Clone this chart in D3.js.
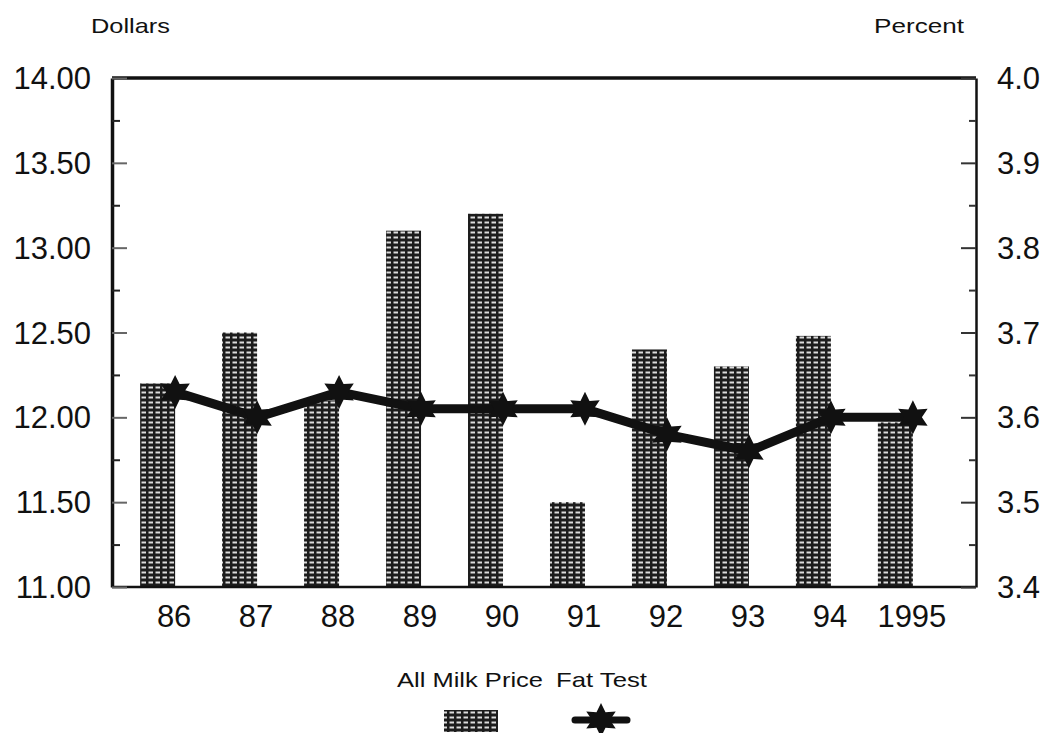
<!DOCTYPE html>
<html>
<head>
<meta charset="utf-8">
<script src="https://cdn.jsdelivr.net/npm/d3@7"></script>
<style>
  body { margin: 0; background: #fff; }
  text { font-family: "Liberation Sans", Arial, sans-serif; fill: #111; }
</style>
</head>
<body>
<svg id="chart" width="1046" height="733"></svg>
<script>
const years = ['86', '87', '88', '89', '90', '91', '92', '93', '94', '1995'];
const milkPrice = [12.20, 12.50, 12.10, 13.10, 13.20, 11.50, 12.40, 12.30, 12.48, 11.97];
const fatTest = [3.63, 3.60, 3.63, 3.61, 3.61, 3.61, 3.58, 3.56, 3.60, 3.60];
const dollarTicks = [11.00, 11.50, 12.00, 12.50, 13.00, 13.50, 14.00];
const percentTicks = [3.4, 3.5, 3.6, 3.7, 3.8, 3.9, 4.0];

// six pointed star like the scanned marker
function starPath(outer, inner) {
  const pts = d3.range(12).map((i) => {
    const a = Math.PI / 6 * i - Math.PI / 2;
    const r = i % 2 === 0 ? outer : inner;
    return [r * Math.cos(a), r * Math.sin(a)];
  });
  return 'M' + pts.join('L') + 'Z';
}

function drawChart() {
  const left = 112, right = 976, top = 78, bottom = 587;
  const barWidth = 35;

  const svg = d3.select('svg#chart');

  const defs = svg.append('defs');
  const pat = defs.append('pattern')
    .attr('id', 'grid')
    .attr('patternUnits', 'userSpaceOnUse')
    .attr('width', 7)
    .attr('height', 5);
  pat.append('rect').attr('width', 7).attr('height', 5).attr('fill', '#1c1c1c');
  pat.append('rect').attr('x', 1.5).attr('y', 1.5).attr('width', 4.5).attr('height', 2).attr('fill', '#dcdcdc');

  const x = d3.scalePoint()
    .domain(years)
    .range([left, right])
    .padding(0.77);

  const yL = d3.scaleLinear().domain([11, 14]).range([bottom, top]);
  const yR = d3.scaleLinear().domain([3.4, 4.0]).range([bottom, top]);

  // bars
  svg.selectAll('rect.bar')
    .data(years)
    .enter()
    .append('rect')
    .attr('class', 'bar')
    .attr('x', (d) => x(d) - barWidth)
    .attr('y', (d, i) => yL(milkPrice[i]))
    .attr('width', barWidth)
    .attr('height', (d, i) => yL(11) - yL(milkPrice[i]))
    .attr('fill', 'url(#grid)');

  // frame
  svg.append('line').attr('x1', left).attr('x2', right).attr('y1', top).attr('y2', top)
    .attr('stroke', '#111').attr('stroke-width', 3.5);
  svg.append('line').attr('x1', left).attr('x2', right).attr('y1', bottom).attr('y2', bottom)
    .attr('stroke', '#111').attr('stroke-width', 2.5);

  // left axis
  const leftAxis = d3.axisRight(yL)
    .tickValues(d3.range(11, 14.01, 0.25))
    .tickSize(0)
    .tickFormat('');
  const gl = svg.append('g').attr('transform', `translate(${left},0)`).call(leftAxis);
  gl.select('.domain').attr('stroke', '#111').attr('stroke-width', 3.5);
  gl.selectAll('.tick line')
    .attr('x2', (d, i) => (i % 2 === 0 ? 15 : 8))
    .attr('stroke', (d, i) => (i % 2 === 0 ? '#666' : '#222'))
    .attr('stroke-width', 2);
  svg.selectAll('text.ltick')
    .data(dollarTicks)
    .enter()
    .append('text')
    .attr('class', 'ltick')
    .attr('x', 91)
    .attr('y', (d) => yL(d))
    .attr('dy', '0.36em')
    .attr('text-anchor', 'end')
    .attr('font-size', 31)
    .text((d) => d3.format('.2f')(d));

  // right axis
  const rightAxis = d3.axisLeft(yR)
    .tickValues(d3.range(3.4, 4.001, 0.05))
    .tickSize(0)
    .tickFormat('');
  const gr = svg.append('g').attr('transform', `translate(${right},0)`).call(rightAxis);
  gr.select('.domain').attr('stroke', '#111').attr('stroke-width', 2.5);
  gr.selectAll('.tick line')
    .attr('x2', (d, i) => (i % 2 === 0 ? -15 : -7))
    .attr('stroke', '#333')
    .attr('stroke-width', 2);
  svg.selectAll('text.rtick')
    .data(percentTicks)
    .enter()
    .append('text')
    .attr('class', 'rtick')
    .attr('x', 997)
    .attr('y', (d) => yR(d))
    .attr('dy', '0.36em')
    .attr('font-size', 31)
    .text((d) => d3.format('.1f')(d));

  // x labels
  svg.selectAll('text.xl')
    .data(years)
    .enter()
    .append('text')
    .attr('class', 'xl')
    .attr('x', (d) => x(d) - 1)
    .attr('y', 627)
    .attr('text-anchor', 'middle')
    .attr('font-size', 31)
    .text((d) => d);

  // fat test line
  const line = d3.line()
    .x((d) => x(d))
    .y((d, i) => yR(fatTest[i]));
  svg.append('path')
    .datum(years)
    .attr('d', line)
    .attr('fill', 'none')
    .attr('stroke', '#111')
    .attr('stroke-width', 9)
    .attr('stroke-linejoin', 'round');

  const star = starPath(17, 9);
  svg.selectAll('path.star')
    .data(years)
    .enter()
    .append('path')
    .attr('class', 'star')
    .attr('transform', (d, i) => `translate(${x(d)},${yR(fatTest[i])})`)
    .attr('d', star)
    .attr('fill', '#111');

  // unit labels
  svg.append('text').attr('x', 91).attr('y', 33).attr('font-size', 21)
    .attr('textLength', 79).attr('lengthAdjust', 'spacingAndGlyphs').text('Dollars');
  svg.append('text').attr('x', 874).attr('y', 33).attr('font-size', 21)
    .attr('textLength', 90).attr('lengthAdjust', 'spacingAndGlyphs').text('Percent');

  // legend
  svg.append('text').attr('x', 397).attr('y', 687).attr('font-size', 21)
    .attr('textLength', 146).attr('lengthAdjust', 'spacingAndGlyphs').text('All Milk Price');
  svg.append('text').attr('x', 556).attr('y', 687).attr('font-size', 21)
    .attr('textLength', 91).attr('lengthAdjust', 'spacingAndGlyphs').text('Fat Test');
  svg.append('rect')
    .attr('x', 444).attr('y', 710).attr('width', 54).attr('height', 22)
    .attr('fill', 'url(#grid)');
  svg.append('line')
    .attr('x1', 575).attr('x2', 627).attr('y1', 720).attr('y2', 720)
    .attr('stroke', '#111').attr('stroke-width', 7).attr('stroke-linecap', 'round');
  svg.append('path')
    .attr('transform', 'translate(601,720)')
    .attr('d', star)
    .attr('fill', '#111');
}

window.addEventListener('load', function() {
  drawChart();
});
</script>
</body>
</html>
